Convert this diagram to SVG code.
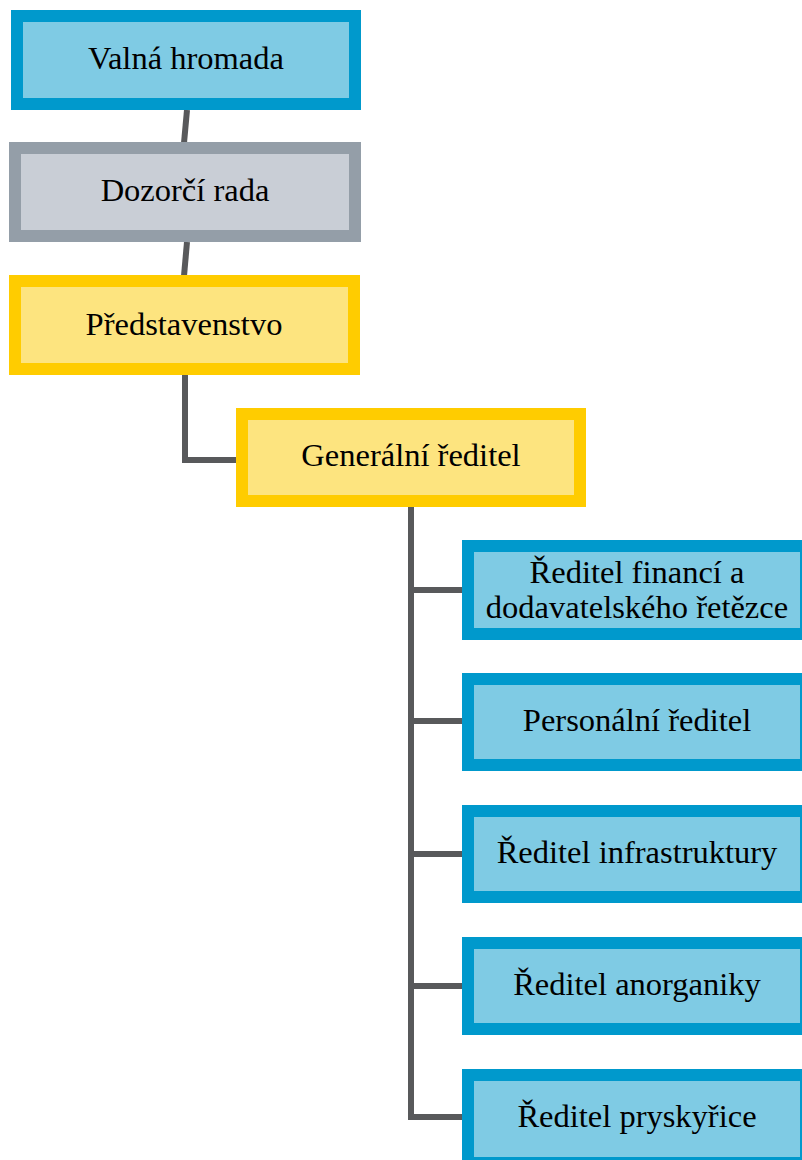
<svg xmlns="http://www.w3.org/2000/svg" width="802" height="1160" viewBox="0 0 802 1160">
<style>
.blue{fill:#7fcbe4;stroke:#0099cc;stroke-width:12}
.gray{fill:#c9ced6;stroke:#949ea8;stroke-width:12}
.yel{fill:#fde47f;stroke:#ffcc00;stroke-width:12}
text{font-family:"Liberation Serif","Times New Roman",serif;font-size:32.5px;fill:#000;text-anchor:middle}
.c{fill:none;stroke:#58595b;stroke-width:6}
</style>
<rect width="802" height="1160" fill="#fff"/>
<g id="connectors">
<line class="c" x1="187" y1="110" x2="184" y2="143"/>
<line class="c" x1="187" y1="242" x2="184" y2="276"/>
<polyline class="c" points="185,375 185,460 237,460"/>
<polyline class="c" points="411,507 411,1117 463,1117"/>
<line class="c" x1="411" y1="590" x2="463" y2="590"/>
<line class="c" x1="411" y1="721" x2="463" y2="721"/>
<line class="c" x1="411" y1="854" x2="463" y2="854"/>
<line class="c" x1="411" y1="986" x2="463" y2="986"/>
</g>
<g id="valna"><rect class="blue" x="17" y="16" width="338" height="88"/><text x="186" y="69">Valná hromada</text></g>
<g id="dozorci"><rect class="gray" x="15" y="148" width="340" height="88"/><text x="185" y="201">Dozorčí rada</text></g>
<g id="predstavenstvo"><rect class="yel" x="15" y="281" width="339" height="88"/><text x="184" y="335">Představenstvo</text></g>
<g id="generalni"><rect class="yel" x="242" y="414" width="338" height="87"/><text x="411" y="466">Generální ředitel</text></g>
<g id="financi"><rect class="blue" x="468" y="546" width="338" height="88"/><text x="637" y="583">Ředitel financí a</text><text x="637" y="618">dodavatelského řetězce</text></g>
<g id="personalni"><rect class="blue" x="468" y="679" width="338" height="86"/><text x="637" y="731">Personální ředitel</text></g>
<g id="infrastruktury"><rect class="blue" x="468" y="811" width="338" height="86"/><text x="637" y="863">Ředitel infrastruktury</text></g>
<g id="anorganiky"><rect class="blue" x="468" y="943" width="338" height="86"/><text x="637" y="995">Ředitel anorganiky</text></g>
<g id="pryskyrice"><rect class="blue" x="468" y="1075" width="338" height="88"/><text x="637" y="1127">Ředitel pryskyřice</text></g>
</svg>
